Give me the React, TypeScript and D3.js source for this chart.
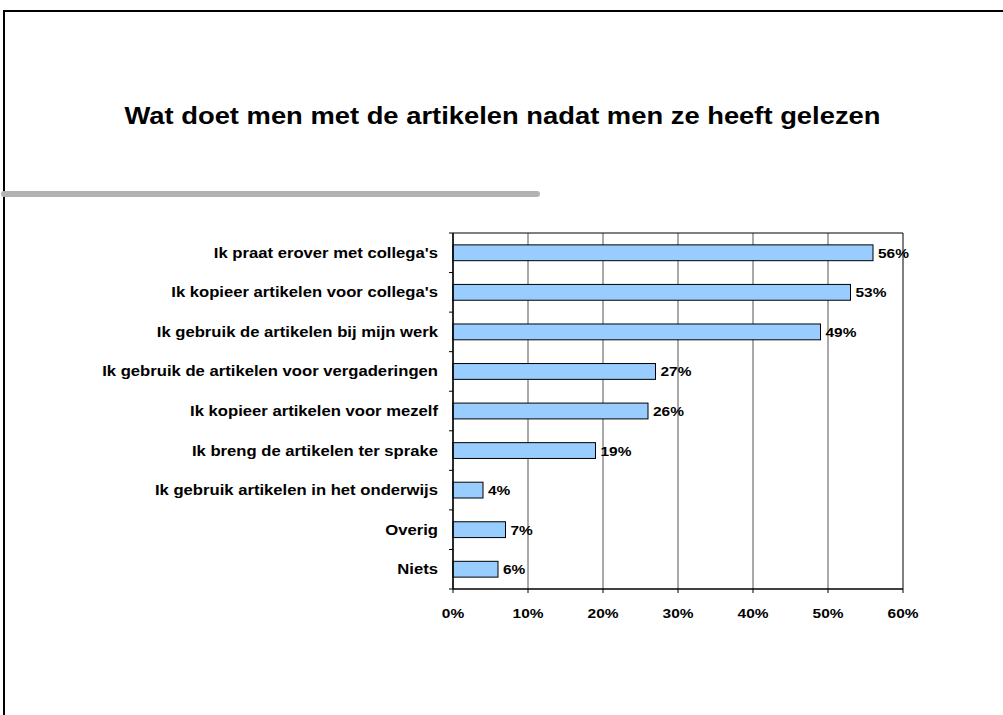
import React from "react";
import * as d3 from "d3";

const categories = [
  "Ik praat erover met collega's",
  "Ik kopieer artikelen voor collega's",
  "Ik gebruik de artikelen bij mijn werk",
  "Ik gebruik de artikelen voor vergaderingen",
  "Ik kopieer artikelen voor mezelf",
  "Ik breng de artikelen ter sprake",
  "Ik gebruik artikelen in het onderwijs",
  "Overig",
  "Niets",
];
const values = [56, 53, 49, 27, 26, 19, 4, 7, 6];
const xTicks = [0, 10, 20, 30, 40, 50, 60];
const title = "Wat doet men met de artikelen nadat men ze heeft gelezen";

const W = 1003;
const H = 715;
const FONT = "Liberation Sans, Arial, sans-serif";
const SX = 1.19;

function T({ x, y, size, anchor = "start", children }: { x: number; y: number; size: number; anchor?: string; children: React.ReactNode }) {
  return (
    <text
      transform={`translate(${x},${y}) scale(${SX},1)`}
      textAnchor={anchor as any}
      fontFamily={FONT}
      fontWeight="bold"
      fontSize={size}
      fill="#000"
    >
      {children}
    </text>
  );
}

export default function App() {
  const left = 453;
  const right = 903;
  const top = 233;
  const bottom = 589;
  const x = d3.scaleLinear().domain([0, 60]).range([left, right]);
  const y = d3.scaleBand<string>().domain(categories).range([top, bottom]).paddingInner(0.6).paddingOuter(0.3);
  const band = d3.scaleBand<string>().domain(categories).range([top, bottom]);

  return (
    <svg width={W} height={H} style={{ position: "absolute", left: 0, top: 0, background: "#fff" }}>
      <rect x={4} y={11} width={W + 10} height={H + 10} fill="none" stroke="#000" strokeWidth={2} />
      <line x1={4} y1={194} x2={537} y2={194} stroke="#b2b2b2" strokeWidth={6} strokeLinecap="round" />
      <T x={502.5} y={123.5} size={23} anchor="middle">{title}</T>
      {xTicks.map((t) => (
        <line key={"g" + t} x1={x(t)} x2={x(t)} y1={top} y2={bottom} stroke={t === 60 ? "#000" : "#555"} strokeWidth={1} />
      ))}
      <line x1={left} x2={right} y1={top} y2={top} stroke="#000" strokeWidth={1} />
      {categories.map((c, i) => (
        <g key={c}>
          <rect x={x(0)} y={y(c)!} width={x(values[i]) - x(0)} height={y.bandwidth()} fill="#99ccff" stroke="#000" strokeWidth={1} />
          <T x={x(values[i]) + 5} y={band(c)! + band.bandwidth() / 2 + 5} size={13}>{values[i]}%</T>
          <T x={438} y={band(c)! + band.bandwidth() / 2 + 5} size={14} anchor="end">{c}</T>
        </g>
      ))}
      <line x1={left} x2={left} y1={top} y2={bottom} stroke="#000" strokeWidth={1.5} />
      {categories.map((c) => (
        <line key={"yt" + c} x1={left - 4} x2={left} y1={band(c)!} y2={band(c)!} stroke="#000" />
      ))}
      <line x1={left - 4} x2={left} y1={bottom} y2={bottom} stroke="#000" />
      <line x1={left} x2={right} y1={bottom} y2={bottom} stroke="#000" strokeWidth={1.5} />
      {xTicks.map((t) => (
        <g key={"xt" + t}>
          <line x1={x(t)} x2={x(t)} y1={bottom} y2={bottom + 4} stroke="#000" />
          <T x={x(t)} y={618} size={13} anchor="middle">{t}%</T>
        </g>
      ))}
    </svg>
  );
}
